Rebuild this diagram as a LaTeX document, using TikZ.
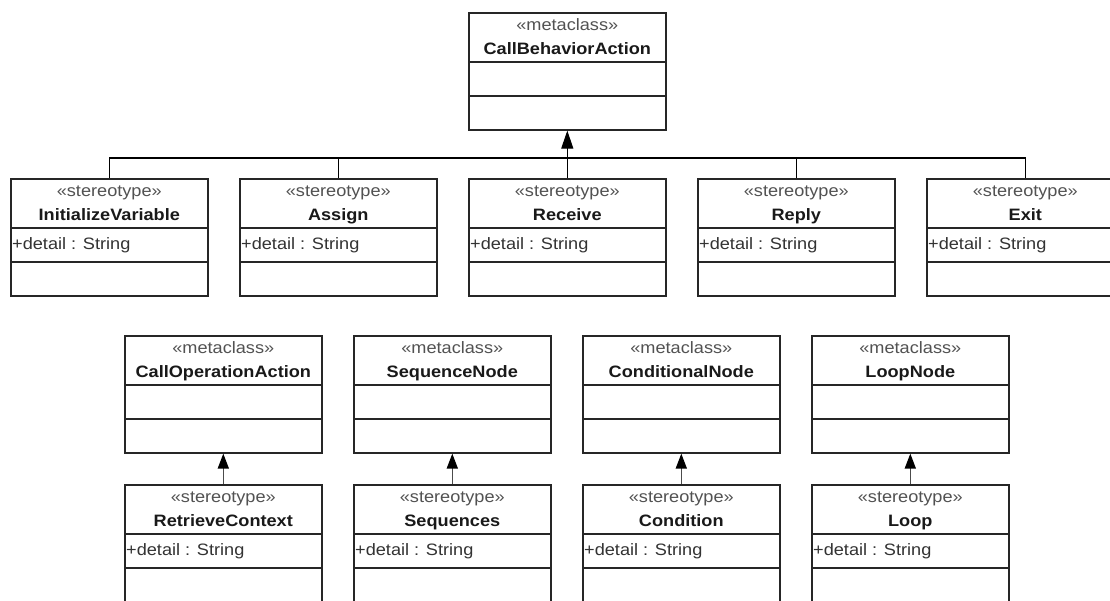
\documentclass[tikz,border=0pt]{standalone}
\usepackage{fontspec}
\setmainfont{Liberation Sans}[FakeStretch=1.1]
\usetikzlibrary{arrows.meta}

% Three-compartment UML class: #1 name, #2 left x, #3 top y, #4 stereotype, #5 title
\newcommand\umlclass[5]{%
  \node[classbox, anchor=north west] (#1) at (#2,#3) {};
  \draw[divider] ([yshift=-50pt]#1.north west) -- ([yshift=-50pt]#1.north east);
  \draw[divider] ([yshift=-84pt]#1.north west) -- ([yshift=-84pt]#1.north east);
  \node[stereotext] (#1-st) at ([yshift=-18pt]#1.north) {«#4»};
  \node[nametext] (#1-nm) at ([yshift=-42pt]#1.north) {#5};
}
% Attribute line in the middle compartment
\newcommand\umlattr[2]{%
  \node[attrtext] (#1-at) at ([xshift=2pt,yshift=-71pt]#1.north west) {#2};
}

\tikzset{
  classbox/.style={draw=black!85, line width=1.6pt, fill=white,
    minimum width=197pt, minimum height=117pt, inner sep=0pt},
  divider/.style={draw=black!85, line width=1.6pt},
  stereotext/.style={anchor=base, inner sep=0pt, text=black!68,
    font=\fontsize{16.5}{19}\selectfont},
  nametext/.style={anchor=base, inner sep=0pt, text=black!90,
    font=\fontsize{16.5}{19}\selectfont\bfseries},
  attrtext/.style={anchor=base west, inner sep=0pt, text=black!80,
    font=\fontsize{16.5}{19}\selectfont},
  link/.style={draw=black, line width=1.1pt},
  gen/.style={draw=black, line width=1.1pt, -{Triangle[length=18pt,width=12pt]}},
  gensub/.style={draw=black!70, line width=1.6pt, -{Triangle[length=15pt,width=11pt,fill=black,color=black]}},
}

\begin{document}
\begin{tikzpicture}[x=1pt,y=-1pt]
  \useasboundingbox (0,0) rectangle (1110,600);
  \clip (0,0) rectangle (1110,600);

  % metaclass at the top
  \umlclass{cba}{468}{12}{metaclass}{CallBehaviorAction}

  % stereotypes extending CallBehaviorAction
  \umlclass{init}{10}{178}{stereotype}{InitializeVariable}
  \umlattr{init}{+detail : String}
  \umlclass{assign}{239}{178}{stereotype}{Assign}
  \umlattr{assign}{+detail : String}
  \umlclass{receive}{468}{178}{stereotype}{Receive}
  \umlattr{receive}{+detail : String}
  \umlclass{reply}{697}{178}{stereotype}{Reply}
  \umlattr{reply}{+detail : String}
  \umlclass{exit}{926}{178}{stereotype}{Exit}
  \umlattr{exit}{+detail : String}

  % shared generalization tree
  \coordinate (bus) at (566.5,158);
  \draw[link] (init.north) |- (bus) -| (exit.north);
  \draw[link] (assign.north) -- (assign.north |- bus);
  \draw[link] (reply.north) -- (reply.north |- bus);
  \draw[gen] (receive.north) -- (cba.south);

  % further metaclasses
  \umlclass{coa}{124}{335}{metaclass}{CallOperationAction}
  \umlclass{seqn}{353}{335}{metaclass}{SequenceNode}
  \umlclass{condn}{582}{335}{metaclass}{ConditionalNode}
  \umlclass{loopn}{811}{335}{metaclass}{LoopNode}

  % their stereotypes
  \umlclass{retr}{124}{484}{stereotype}{RetrieveContext}
  \umlattr{retr}{+detail : String}
  \umlclass{seqs}{353}{484}{stereotype}{Sequences}
  \umlattr{seqs}{+detail : String}
  \umlclass{cond}{582}{484}{stereotype}{Condition}
  \umlattr{cond}{+detail : String}
  \umlclass{loop}{811}{484}{stereotype}{Loop}
  \umlattr{loop}{+detail : String}

  \draw[gensub] (retr.north) -- (coa.south);
  \draw[gensub] (seqs.north) -- (seqn.south);
  \draw[gensub] (cond.north) -- (condn.south);
  \draw[gensub] (loop.north) -- (loopn.south);
\end{tikzpicture}
\end{document}
